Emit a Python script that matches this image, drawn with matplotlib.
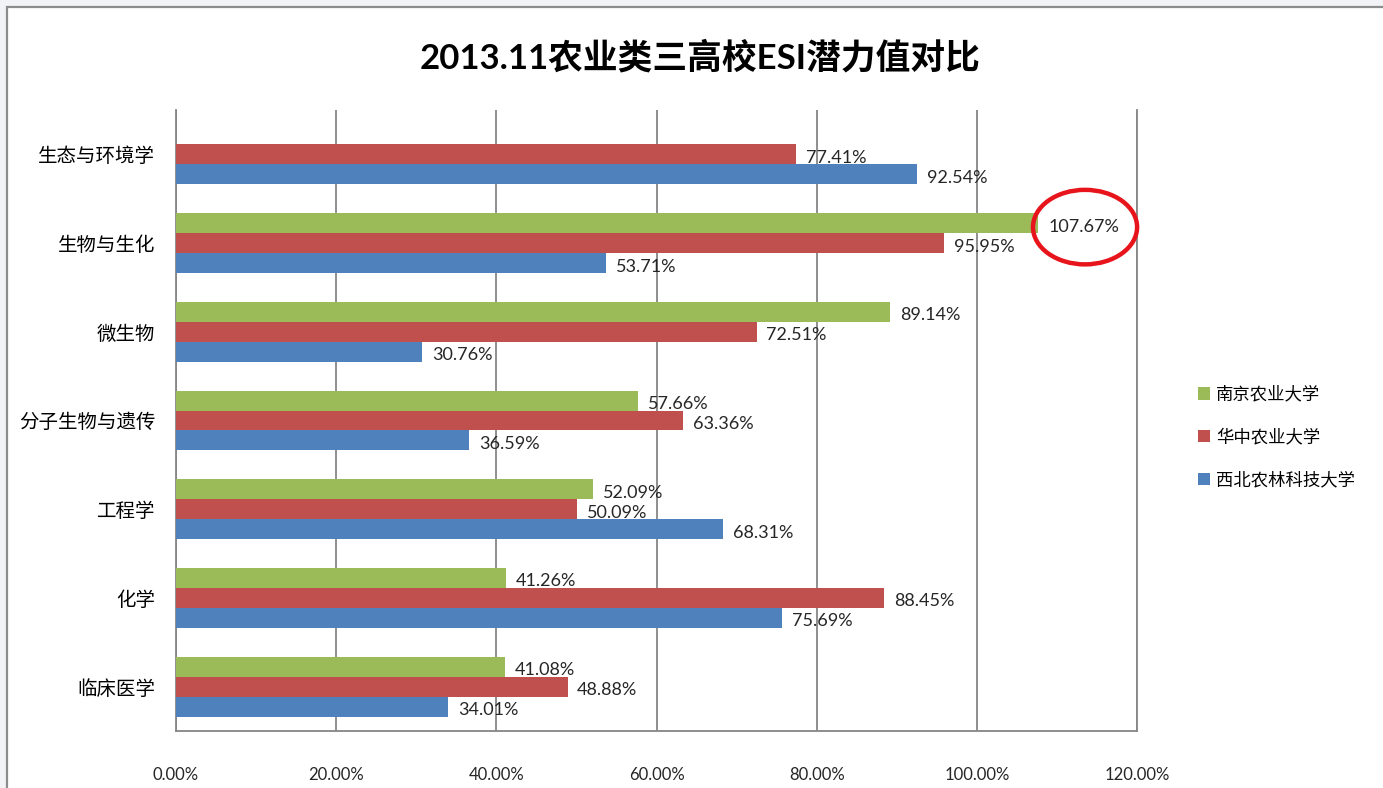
import matplotlib
matplotlib.use('Agg')
import numpy as np
import matplotlib.pyplot as plt
from matplotlib.patches import Rectangle, Ellipse, Patch

plt.rcParams['font.family'] = ['Lato', 'Noto Sans CJK SC', 'DejaVu Sans']

# данные
categories = ['生态与环境学', '生物与生化', '微生物', '分子生物与遗传', '工程学', '化学', '临床医学']
series_names = ['南京农业大学', '华中农业大学', '西北农林科技大学']
njau = [None, 107.67, 89.14, 57.66, 52.09, 41.26, 41.08]
hzau = [77.41, 95.95, 72.51, 63.36, 50.09, 88.45, 48.88]
nwafu = [92.54, 53.71, 30.76, 36.59, 68.31, 75.69, 34.01]
colors = ['#9BBB59', '#C0504D', '#4F81BD']
xticks = [0, 20, 40, 60, 80, 100, 120]

fig = plt.figure(figsize=(13.83, 7.88), dpi=100)
fig.patch.set_facecolor('#f1f3f6')
# рамка диаграммы
fig.patches.append(Rectangle((0.00506, -0.05), 1.05, 1.0411, transform=fig.transFigure,
                             facecolor='white', edgecolor='#8c8c8c', lw=1.6, zorder=-10))

ax = fig.add_axes([0.1273, 0.0723, 0.6949, 0.7881])
ax.set_facecolor('white')

y = np.arange(len(categories))
h = 0.225
for k, (vals, col) in enumerate(zip([njau, hzau, nwafu], colors)):
	pos = y + (k - 1) * h
	for yi, v in zip(pos, vals):
		if v is None:
			continue
		ax.barh(yi, v, height=h, color=col, zorder=3)
		ax.annotate(f'{v:.2f}%', (v, yi), xytext=(7, -2.5), textcoords='offset points',
					va='center', ha='left', fontsize=13, color='#262626', zorder=4)

ax.set_xlim(0, 120)
ax.set_ylim(len(categories) - 0.5, -0.5)
ax.set_xticks(xticks)
ax.set_xticklabels([f'{t:.2f}%' for t in xticks], fontsize=12, color='#262626')
ax.set_yticks(y)
ax.set_yticklabels(categories, fontsize=14, color='black')
ax.tick_params(axis='both', length=0)
ax.tick_params(axis='x', pad=26)
ax.tick_params(axis='y', pad=15)
ax.grid(axis='x', color='#868686', lw=1.3, zorder=1)
for s in ['left', 'bottom', 'right']:
	ax.spines[s].set_color('#868686')
	ax.spines[s].set_linewidth(1.3)
ax.spines['top'].set_visible(False)

# красный овал вокруг максимума
ax.add_patch(Ellipse((113.5, 0.82), 13.0, 0.84, fill=False, edgecolor='#e8141b',
					 lw=3.2, clip_on=False, zorder=5))

fig.text(0.506, 0.927, '2013.11农业类三高校ESI潜力值对比', ha='center', va='center',
		 fontsize=25, fontweight='bold', color='black')

handles = [Patch(facecolor=c, edgecolor='none') for c in colors]
fig.legend(handles, series_names, loc='center left', bbox_to_anchor=(0.855, 0.4454),
		   frameon=False, fontsize=12.5, handlelength=0.7, handleheight=0.7,
		   handletextpad=0.35, labelspacing=1.5)

fig.savefig('out.png', dpi=100, facecolor=fig.get_facecolor())
